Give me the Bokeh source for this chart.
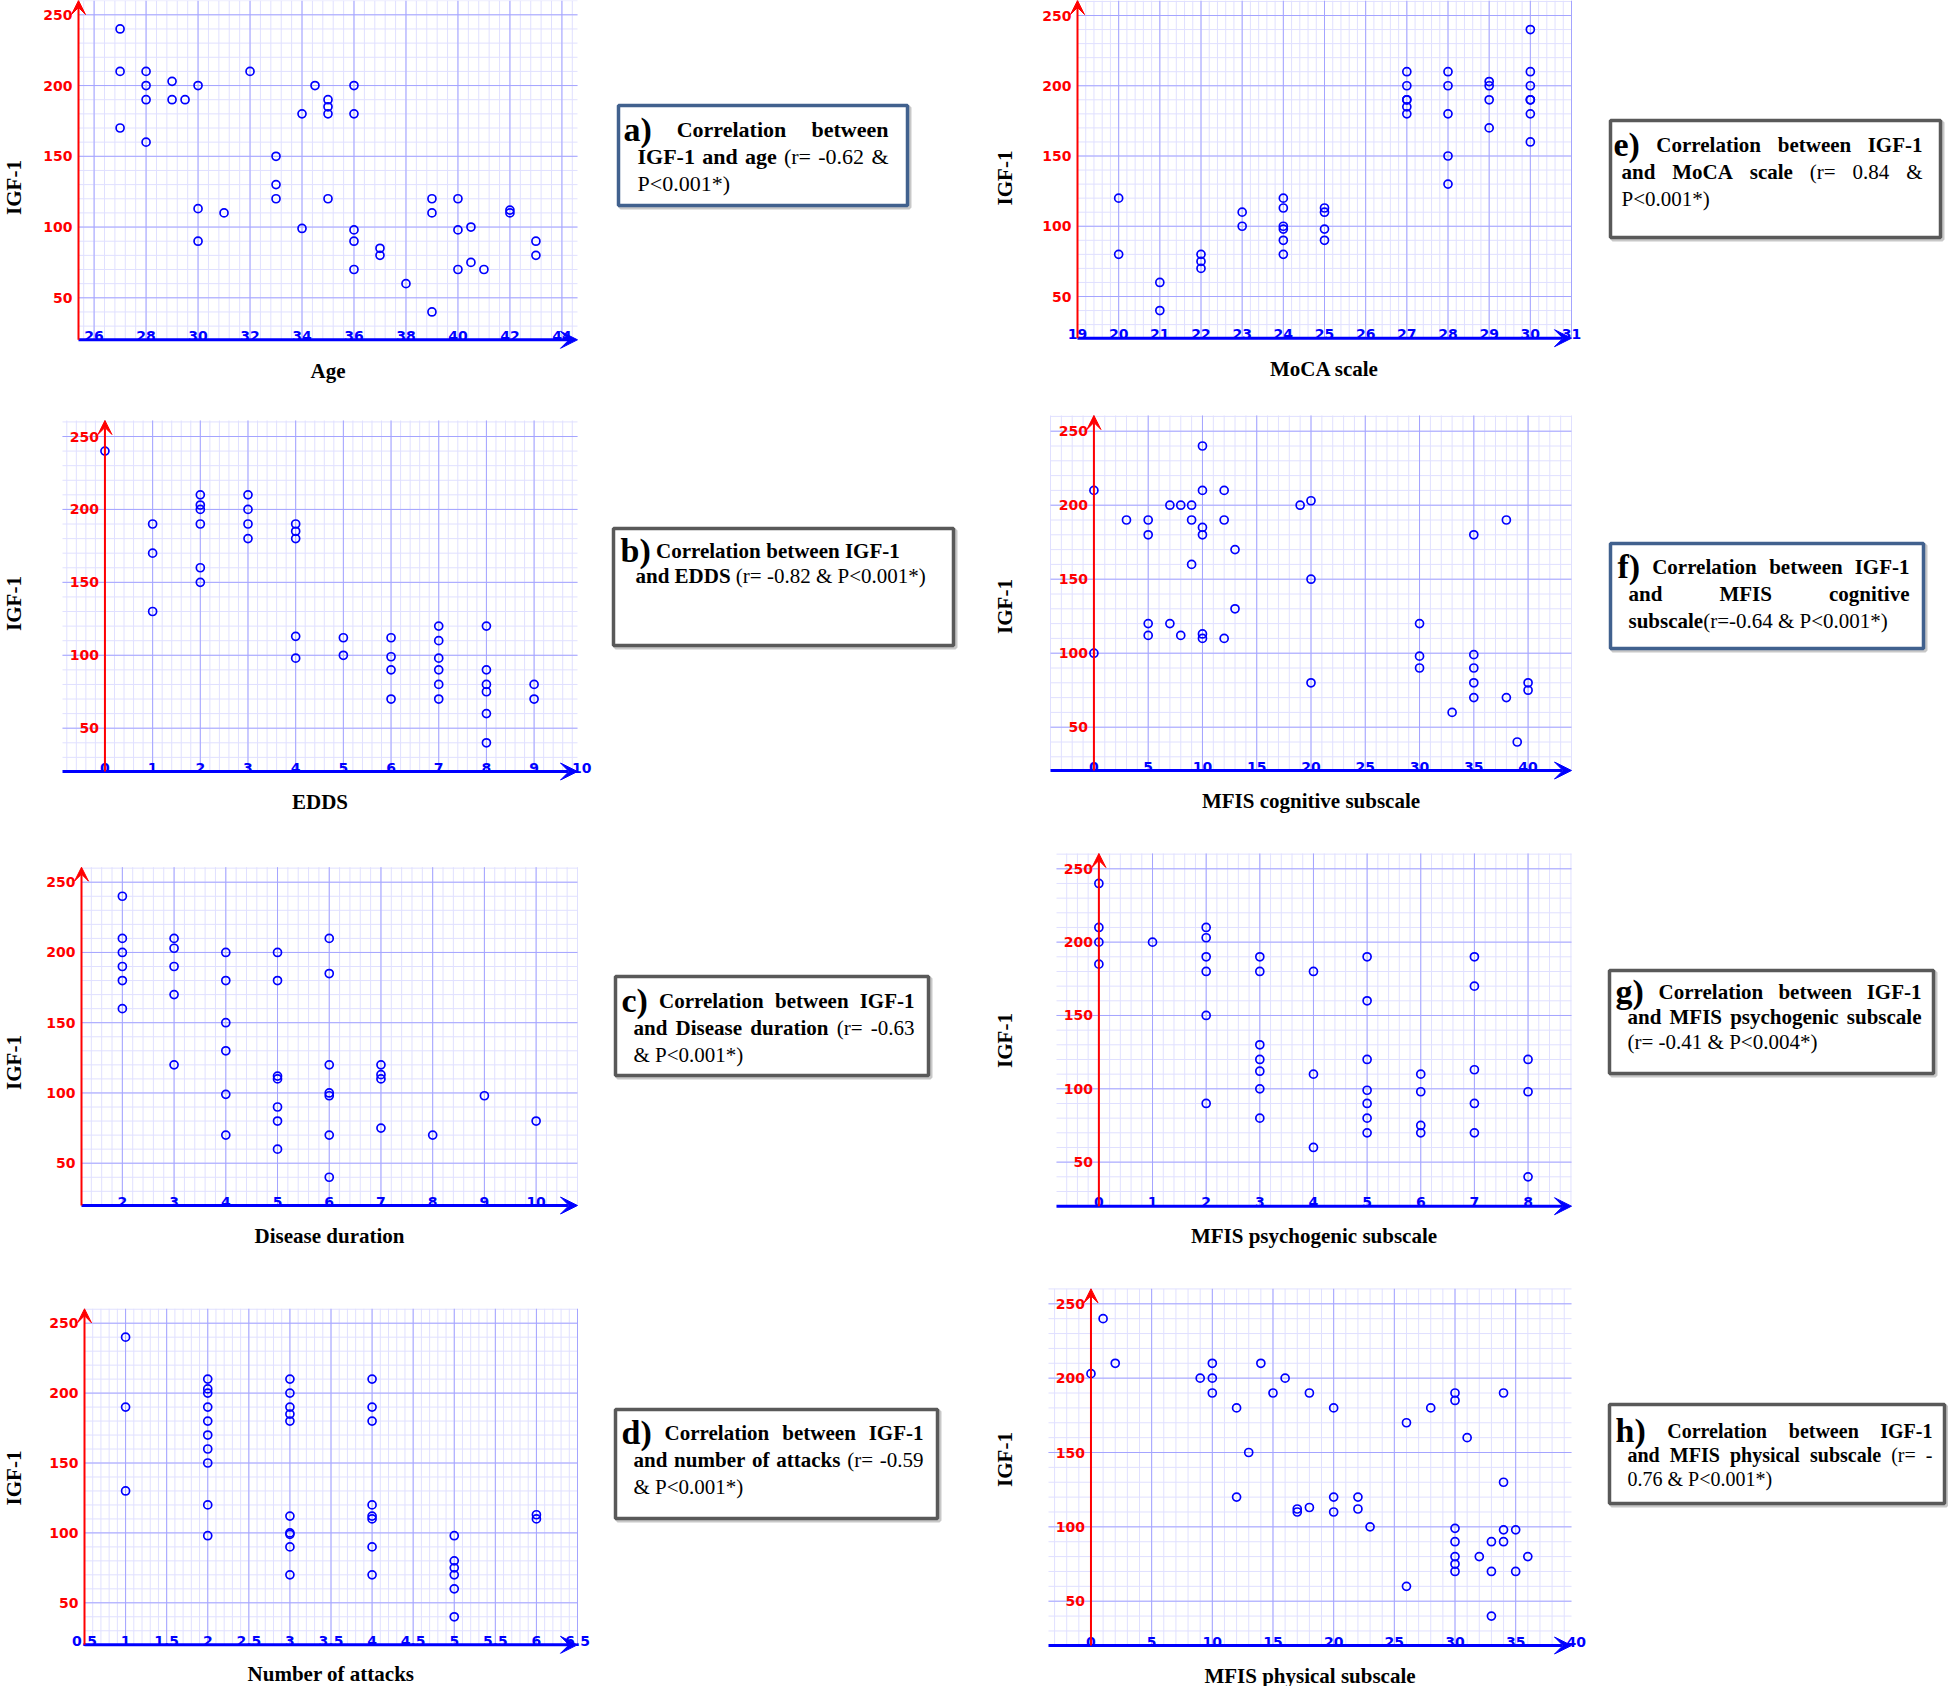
import numpy as np
from bokeh.plotting import figure
from bokeh.models import Range1d, Arrow, VeeHead
from bokeh.layouts import row, column
from bokeh.embed import file_html
from bokeh.resources import INLINE
from bokeh.core.properties import value

# ---------------- data ----------------
Y_TICKS = [50, 100, 150, 200, 250]

AGE_X = [27, 27, 27, 28, 28, 28, 28, 29, 29, 29.5, 30, 30, 30, 31, 32, 33, 33, 33, 34, 34, 34.5,
         35, 35, 35, 35, 36, 36, 36, 36, 36, 37, 37, 38, 39, 39, 39, 40, 40, 40, 40.5, 40.5, 41, 42, 42, 43, 43]
AGE_Y = [240, 210, 170, 210, 200, 190, 160, 203, 190, 190, 200, 113, 90, 110, 210, 150, 130, 120, 180, 99, 200,
         190, 185, 180, 120, 200, 180, 98, 90, 70, 85, 80, 60, 120, 110, 40, 120, 98, 70, 100, 75, 70, 112, 110, 90, 80]
AGE_TICKS = [26, 28, 30, 32, 34, 36, 38, 40, 42, 44]

MOCA_X = [20, 20, 21, 21, 22, 22, 22, 23, 23, 24, 24, 24, 24, 24, 24, 25, 25, 25, 25,
          27, 27, 27, 27, 27, 27, 28, 28, 28, 28, 28, 29, 29, 29, 29, 30, 30, 30, 30, 30, 30, 30]
MOCA_Y = [120, 80, 60, 40, 80, 75, 70, 110, 100, 120, 113, 100, 98, 90, 80, 113, 110, 98, 90,
          210, 200, 190, 190, 185, 180, 210, 200, 180, 150, 130, 203, 200, 190, 170, 240, 210, 200, 190, 190, 180, 160]
MOCA_TICKS = [19, 20, 21, 22, 23, 24, 25, 26, 27, 28, 29, 30, 31]

EDDS_X = [0, 1, 1, 1, 2, 2, 2, 2, 2, 2, 3, 3, 3, 3, 4, 4, 4, 4, 4, 5, 5, 6, 6, 6, 6,
          7, 7, 7, 7, 7, 7, 8, 8, 8, 8, 8, 8, 9, 9]
EDDS_Y = [240, 190, 170, 130, 210, 203, 200, 190, 160, 150, 210, 200, 190, 180, 190, 185, 180, 113, 98, 112, 100,
          112, 99, 90, 70, 120, 110, 98, 90, 80, 70, 120, 90, 80, 75, 60, 40, 80, 70]
EDDS_TICKS = [0, 1, 2, 3, 4, 5, 6, 7, 8, 9, 10]

COG_X = [0, 0, 3, 5, 5, 5, 5, 7, 7, 8, 8, 9, 9, 9, 10, 10, 10, 10, 10, 10, 12, 12, 12, 13, 13, 19,
         20, 20, 20, 30, 30, 30, 33, 35, 35, 35, 35, 35, 38, 38, 39, 40, 40]
COG_Y = [210, 100, 190, 190, 180, 120, 112, 200, 120, 200, 112, 200, 190, 160, 240, 210, 185, 180, 113, 110,
         210, 190, 110, 170, 130, 200, 203, 150, 80, 120, 98, 90, 60, 180, 99, 90, 80, 70, 190, 70, 40, 80, 75]
COG_TICKS = [0, 5, 10, 15, 20, 25, 30, 35, 40]

DUR_X = [2, 2, 2, 2, 2, 2, 3, 3, 3, 3, 3, 4, 4, 4, 4, 4, 4, 5, 5, 5, 5, 5, 5, 5,
         6, 6, 6, 6, 6, 6, 6, 7, 7, 7, 7, 8, 9, 10]
DUR_Y = [240, 210, 200, 190, 180, 160, 210, 203, 190, 170, 120, 200, 180, 150, 130, 99, 70,
         200, 180, 112, 110, 90, 80, 60, 210, 185, 120, 100, 98, 70, 40, 120, 113, 110, 75, 70, 98, 80]
DUR_TICKS = [2, 3, 4, 5, 6, 7, 8, 9, 10]

PSY_X = [0, 0, 0, 0, 1, 2, 2, 2, 2, 2, 2, 3, 3, 3, 3, 3, 3, 3, 4, 4, 4, 5, 5, 5, 5, 5, 5, 5,
         6, 6, 6, 6, 7, 7, 7, 7, 7, 8, 8, 8]
PSY_Y = [240, 210, 200, 185, 200, 210, 203, 190, 180, 150, 90, 190, 180, 130, 120, 112, 100, 80,
         180, 110, 60, 190, 160, 120, 99, 90, 80, 70, 110, 98, 75, 70, 190, 170, 113, 90, 70, 120, 98, 40]
PSY_TICKS = [0, 1, 2, 3, 4, 5, 6, 7, 8]

ATT_X = [1, 1, 1, 2, 2, 2, 2, 2, 2, 2, 2, 2, 2, 3, 3, 3, 3, 3, 3, 3, 3, 3, 3,
         4, 4, 4, 4, 4, 4, 4, 4, 5, 5, 5, 5, 5, 5, 6, 6]
ATT_Y = [240, 190, 130, 210, 203, 200, 190, 180, 170, 160, 150, 120, 98, 210, 200, 190, 185, 180, 112, 100, 99, 90, 70,
         210, 190, 180, 120, 112, 110, 90, 70, 98, 80, 75, 70, 60, 40, 113, 110]
ATT_TICKS = [0.5, 1, 1.5, 2, 2.5, 3, 3.5, 4, 4.5, 5, 5.5, 6, 6.5]

PHY_X = [0, 1, 2, 9, 10, 10, 10, 12, 12, 13, 14, 15, 16, 17, 17, 18, 18, 20, 20, 20, 22, 22, 23, 26, 26, 28,
         30, 30, 30, 30, 30, 30, 30, 31, 32, 33, 33, 33, 34, 34, 34, 34, 35, 35, 36]
PHY_Y = [203, 240, 210, 200, 210, 200, 190, 180, 120, 150, 210, 190, 200, 112, 110, 190, 113, 180, 120, 110, 120, 112,
         100, 170, 60, 180, 190, 185, 99, 90, 80, 75, 70, 160, 80, 90, 70, 40, 190, 130, 98, 90, 98, 70, 80]
PHY_TICKS = [0, 5, 10, 15, 20, 25, 30, 35, 40]

Y_LABEL = "IGF-1"

BOX_A = [(True, 0, [("a)", "big"), (" Correlation between", "b")]),
         (True, 14, [("IGF-1 and age ", "b"), ("(r= -0.62 &", "r")]),
         (False, 14, [("P<0.001*)", "r")])]
BOX_B = [(False, 0, [("b)", "big"), (" Correlation between IGF-1", "b")]),
         (False, 15, [("and EDDS ", "b"), ("(r= -0.82 & P<0.001*)", "r")])]
BOX_C = [(True, 0, [("c)", "big"), (" Correlation between IGF-1", "b")]),
         (True, 12, [("and Disease duration ", "b"), ("(r= -0.63", "r")]),
         (False, 12, [("& P<0.001*)", "r")])]
BOX_D = [(True, 0, [("d)", "big"), (" Correlation between IGF-1", "b")]),
         (True, 12, [("and number of attacks ", "b"), ("(r= -0.59", "r")]),
         (False, 12, [("& P<0.001*)", "r")])]
BOX_E = [(True, 0, [("e)", "big"), (" Correlation between IGF-1", "b")]),
         (True, 8, [("and MoCA scale ", "b"), ("(r= 0.84 &", "r")]),
         (False, 8, [("P<0.001*)", "r")])]
BOX_F = [(True, 0, [("f)", "big"), (" Correlation between IGF-1", "b")]),
         (True, 11, [("and MFIS cognitive", "b")]),
         (False, 11, [("subscale", "b"), ("(r=-0.64 & P<0.001*)", "r")])]
BOX_G = [(True, 0, [("g)", "big"), (" Correlation between IGF-1", "b")]),
         (True, 12, [("and MFIS psychogenic subscale", "b")]),
         (False, 12, [("(r= -0.41 & P<0.004*)", "r")])]
BOX_H = [(True, 0, [("h)", "big"), (" Correlation between IGF-1", "b")]),
         (True, 12, [("and MFIS physical subscale ", "b"), ("(r= -", "r")]),
         (False, 12, [("0.76 & P<0.001*)", "r")])]

# ---------------- styles ----------------
BLUE = "#0000ff"
RED = "#ff0000"
MAJOR = "#a4a4ff"
MINOR = "#e0e0ff"
SERIF = "Liberation Serif"
SANS = "DejaVu Sans"
TICK_FS = "14px"
TITLE_FS = "21px"


def fmt(t):
    return str(int(t)) if float(t).is_integer() else str(t)


def panel(xs, ys, xticks, xstep, gx, gl, gr, p250, ky, B, gtop_px, W, H, edge_axis, xlabel, lab, title_dy):
    """Layout in figure pixels: grid spans gl..gr horizontally (data gx), the value 250 sits at
    pixel row p250 with ky pixels per unit, the x axis at pixel row B, the grid top at gtop_px."""
    gx0, gx1 = gx
    kx = (gr - gl) / (gx1 - gx0)

    def X(px):
        return gx0 + (px - gl) / kx

    def Y(py):
        return 250 + (p250 - py) / ky

    p = figure(width=W, height=H, x_range=Range1d(X(0), X(W)), y_range=Range1d(Y(H), Y(0)),
               x_axis_type=None, y_axis_type=None, toolbar_location=None,
               output_backend="svg", min_border=0, outline_line_color=None,
               title=None, background_fill_color="white", border_fill_color="white")
    gy0, gtop = Y(B), Y(gtop_px)

    # graph-paper grid, restricted to the area spanned by the two axes
    xa = np.floor(gx0 / xstep) * xstep
    xmin_ = [v for v in np.arange(xa, gx1 + 1e-9, xstep / 5.0) if v >= gx0 - 1e-9]
    xmaj = [v for v in np.arange(xa, gx1 + 1e-9, xstep) if v >= gx0 - 1e-9]
    ymin_ = [v for v in np.arange(0, 300, 10.0) if gy0 - 1e-9 <= v <= gtop]
    ymaj = [v for v in np.arange(0, 300, 50.0) if gy0 - 1e-9 <= v <= gtop]
    for xl, yl, col in ((xmin_, ymin_, MINOR), (xmaj, ymaj, MAJOR)):
        p.segment(x0=xl, y0=[gy0] * len(xl), x1=xl, y1=[gtop] * len(xl), line_color=col, line_width=1)
        p.segment(x0=[gx0] * len(yl), y0=yl, x1=[gx1] * len(yl), y1=yl, line_color=col, line_width=1)

    yaxis_x = gx0 if edge_axis else 0

    p.scatter(xs, ys, marker="circle", size=8, fill_color=None, line_color=BLUE, line_width=1.7)

    # tick labels
    p.text(x=list(xticks), y=[gy0] * len(xticks), text=[fmt(t) for t in xticks],
           text_align="center", text_baseline="alphabetic", y_offset=-4,
           text_font=value(SANS), text_font_style="bold", text_font_size=TICK_FS, text_color=BLUE)
    p.text(x=[yaxis_x] * len(Y_TICKS), y=Y_TICKS, text=[fmt(t) for t in Y_TICKS],
           text_align="right", text_baseline="middle", x_offset=-6,
           text_font=value(SANS), text_font_style="bold", text_font_size=TICK_FS, text_color=RED)

    # axis titles
    p.text(x=[(gx0 + gx1) / 2.0], y=[gy0], text=[xlabel], y_offset=title_dy,
           text_align="center", text_baseline="middle", text_font=value(SERIF),
           text_font_style="bold", text_font_size=TITLE_FS, text_color="black")
    p.text(x=[X(lab[0])], y=[Y(lab[1])], text=[Y_LABEL], angle=np.pi / 2,
           text_align="center", text_baseline="middle", text_font=value(SERIF),
           text_font_style="bold", text_font_size=TITLE_FS, text_color="black")

    # axes with arrow heads
    p.add_layout(Arrow(end=VeeHead(size=17, fill_color=BLUE, line_color=BLUE, line_width=1),
                       x_start=gx0, y_start=gy0, x_end=gx1, y_end=gy0,
                       line_color=BLUE, line_width=3))
    p.add_layout(Arrow(end=VeeHead(size=14, fill_color=RED, line_color=RED, line_width=1),
                       x_start=yaxis_x, y_start=gy0, x_end=yaxis_x, y_end=gtop,
                       line_color=RED, line_width=2))
    return p


# Times metrics (per 1000 em)
TR = dict(zip("abcdefghijklmnopqrstuvwxyz",
              [444, 500, 444, 500, 444, 333, 500, 500, 278, 278, 500, 278, 778, 500, 500, 500, 500, 333, 389, 278,
               500, 500, 722, 500, 500, 444]))
TR.update(dict(zip("ABCDEFGHIJKLMNOPQRSTUVWXYZ",
                   [722, 667, 667, 722, 611, 556, 722, 722, 333, 389, 722, 611, 889, 722, 722, 556, 722, 667, 556,
                    611, 722, 722, 944, 722, 722, 611])))
TR.update({" ": 250, "(": 333, ")": 333, "*": 500, "-": 333, ".": 250, "<": 564, "=": 564, "&": 778})
TB = dict(zip("abcdefghijklmnopqrstuvwxyz",
              [500, 556, 444, 556, 444, 333, 500, 556, 278, 333, 556, 278, 833, 556, 500, 556, 556, 444, 389, 333,
               556, 500, 722, 500, 500, 444]))
TB.update(dict(zip("ABCDEFGHIJKLMNOPQRSTUVWXYZ",
                   [722, 667, 722, 722, 667, 611, 778, 778, 389, 500, 778, 667, 944, 722, 778, 611, 778, 722, 556,
                    667, 722, 722, 1000, 722, 722, 667])))
TB.update({" ": 250, "(": 333, ")": 333, "*": 500, "-": 333, ".": 250, "<": 570, "=": 570, "&": 833})
for d in "0123456789":
    TR[d] = 500
    TB[d] = 500


def tokenize(runs):
    words = [[]]
    for text, st in runs:
        parts = text.split(" ")
        for i, part in enumerate(parts):
            if i > 0:
                words.append([])
            if part:
                words[-1].append((part, st))
    return [w for w in words if w]


def run_w(text, st, fs, big):
    table = TR if st == "r" else TB
    size = big if st == "big" else fs
    return sum(table.get(c, 500) for c in text) / 1000.0 * size


def box_figure(W, H, rect, color, lines, fs, big, base0, lh, pad_l, pad_r):
    x0, y0, x1, y1 = rect
    p = figure(width=W, height=H, x_range=Range1d(0, W), y_range=Range1d(H, 0),
               x_axis_type=None, y_axis_type=None, toolbar_location=None,
               output_backend="svg", min_border=0, outline_line_color=None, title=None,
               background_fill_color="white", border_fill_color="white")
    p.quad(left=[x0 + 2], right=[x1 + 2], top=[y0 + 2], bottom=[y1 + 2], fill_color=None,
           line_color="#c8c8c8", line_width=4)
    p.quad(left=[x0], right=[x1], top=[y0], bottom=[y1], fill_color="white",
           line_color=color, line_width=3.5)
    out = {"r": ([], [], []), "b": ([], [], []), "big": ([], [], [])}
    for li, (just, indent, runs) in enumerate(lines):
        words = tokenize(runs)
        widths = [sum(run_w(t, s, fs, big) for t, s in w) for w in words]
        xs0 = x0 + pad_l + indent
        avail = (x1 - pad_r) - xs0
        if just and len(words) > 1:
            gap = max((avail - sum(widths)) / (len(words) - 1), 0.25 * fs)
        else:
            gap = 0.25 * fs
        y = y0 + base0 + li * lh
        x = xs0
        for w, ww in zip(words, widths):
            xx = x
            for t, s in w:
                out[s][0].append(xx)
                out[s][1].append(y)
                out[s][2].append(t)
                xx += run_w(t, s, fs, big)
            x += ww + gap
    for st, (xs, ys, ts) in out.items():
        if not xs:
            continue
        p.text(x=xs, y=ys, text=ts, text_align="left", text_baseline="alphabetic",
               text_font=value(SERIF), text_font_style="normal" if st == "r" else "bold",
               text_font_size="%gpx" % (big if st == "big" else fs), text_color="black")
    return p


WL, WB, WR, WB2 = 600, 390, 600, 358
H1, H2, H3, H4 = 410, 440, 436, 400
STEEL = "#41618e"
GRAY = "#595959"

pa = panel(AGE_X, AGE_Y, AGE_TICKS, 2, (25.4, 44.6), 78, 577, 14.3, 1.415, 339.3, 0, WL, H1, True, "Age", (13.5, 187), 31)
pe = panel(MOCA_X, MOCA_Y, MOCA_TICKS, 1, (19.0, 31.0), 87, 581, 15.0, 1.405, 337.7, 0, WR, H1, True, "MoCA scale", (14.5, 177.5), 30.6)
pb = panel(EDDS_X, EDDS_Y, EDDS_TICKS, 1, (-0.89, 9.91), 62, 577, 26.0, 1.4585, 361, 10, WL, H2, False, "EDDS", (13.5, 193), 30.7)
pf = panel(COG_X, COG_Y, COG_TICKS, 5, (-4.0, 44.0), 60, 581, 20.7, 1.48, 360, 5, WR, H2, False, "MFIS cognitive subscale", (14.5, 196), 30)
pc = panel(DUR_X, DUR_Y, DUR_TICKS, 1, (1.21, 10.8), 81, 577, 31.7, 1.405, 355, 16.7, WL, H3, True, "Disease duration", (13.5, 212), 30)
pg = panel(PSY_X, PSY_Y, PSY_TICKS, 1, (-0.79, 8.81), 66, 581, 18.3, 1.4667, 355.7, 3, WR, H3, False, "MFIS psychogenic subscale", (14.5, 190), 30)
pd = panel(ATT_X, ATT_Y, ATT_TICKS, 0.5, (0.5, 6.5), 84, 577, 36.7, 1.398, 358.3, 22.3, WL, H4, True, "Number of attacks", (13.5, 191.5), 29)
ph = panel(PHY_X, PHY_Y, PHY_TICKS, 5, (-3.5, 39.6), 58, 581, 17.3, 1.487, 359, 2.3, WR, H4, False, "MFIS physical subscale", (14.5, 173), 30)

ba = box_figure(WB, H1, (18, 105, 307, 205), STEEL, BOX_A, 22, 34, 24, 27, 5, 19)
be = box_figure(WB2, H1, (20, 120, 350, 237), GRAY, BOX_E, 21, 34, 24, 27, 3, 18)
bb = box_figure(WB, H2, (13, 118, 353, 235), GRAY, BOX_B, 21, 34, 22, 25, 7, 14)
bf = box_figure(WB2, H2, (20, 133, 333, 238), STEEL, BOX_F, 21, 34, 23, 27, 7, 14)
bc = box_figure(WB, H3, (15, 126, 328, 225), GRAY, BOX_C, 21, 34, 24, 27, 6, 14)
bg = box_figure(WB2, H3, (19, 120, 343, 223), GRAY, BOX_G, 21, 34, 21, 25, 6, 12)
bd = box_figure(WB, H4, (15, 123, 337, 232), GRAY, BOX_D, 21, 34, 23, 27, 6, 14)
bh = box_figure(WB2, H4, (19, 118, 354, 217), GRAY, BOX_H, 20, 34, 26, 24, 6, 12)

layout = column(row(pa, ba, pe, be), row(pb, bb, pf, bf), row(pc, bc, pg, bg), row(pd, bd, ph, bh))

open("out.html", "w").write(file_html(layout, INLINE))
